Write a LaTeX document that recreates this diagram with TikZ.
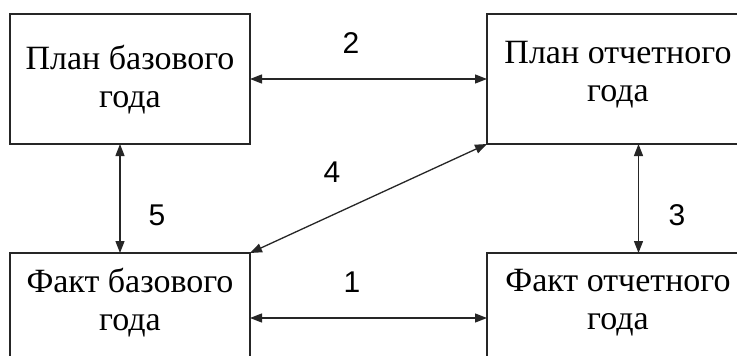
\documentclass[tikz,border=0pt]{standalone}
\usepackage{fontspec}
\setmainfont{Liberation Serif}
\newfontfamily\digitfont{Liberation Sans}
\usetikzlibrary{arrows.meta}

\begin{document}
\begin{tikzpicture}[x=1pt,y=-1pt,
  box/.style={draw=black!85, line width=1.6pt, minimum width=240pt, minimum height=130pt,
              inner sep=0pt, outer sep=0pt, anchor=north west},
  boxtext/.style={font=\fontsize{34}{38}\selectfont, align=center, inner sep=0pt},
  num/.style={font=\digitfont\fontsize{30}{34}\selectfont, inner sep=0pt},
  link/.style={draw=black!85, line width=1.3pt,
               {Triangle[length=12pt,width=9pt]}-{Triangle[length=12pt,width=9pt]}}]
  \clip (0,0) rectangle (737,356);
  \fill[white] (0,0) rectangle (737,356);

  % the four blocks
  \node[box] (pb) at (10,14) {};
  \node[box, minimum width=261pt] (po) at (487,14) {};
  \node[box] (fb) at (10,253) {};
  \node[box, minimum width=261pt] (fo) at (487,253) {};

  % block captions
  \node[boxtext] (tpb) at (130,80) {План базового\\года};
  \node[boxtext] (tpo) at (618,75) {План отчетного\\года};
  \node[boxtext] (tfb) at (130,303) {Факт базового\\года};
  \node[boxtext] (tfo) at (618,303) {Факт отчетного\\года};

  % comparisons between the blocks
  \draw[link] (pb.east) -- (po.west);
  \draw[link] (fb.east) -- (fo.west);
  \draw[link] ([xshift=-10pt]pb.south) -- ([xshift=-10pt]fb.north);
  \draw[link] ([xshift=21pt]po.south) -- ([xshift=21pt]fo.north);
  \draw[link] (po.south west) -- (fb.north east);

  % comparison numbers
  \node[num] (n2) at (351,43) {2};
  \node[num] (n1) at (352,282) {1};
  \node[num] (n5) at (157,215) {5};
  \node[num] (n3) at (677,215) {3};
  \node[num] (n4) at (332,172) {4};
\end{tikzpicture}
\end{document}
